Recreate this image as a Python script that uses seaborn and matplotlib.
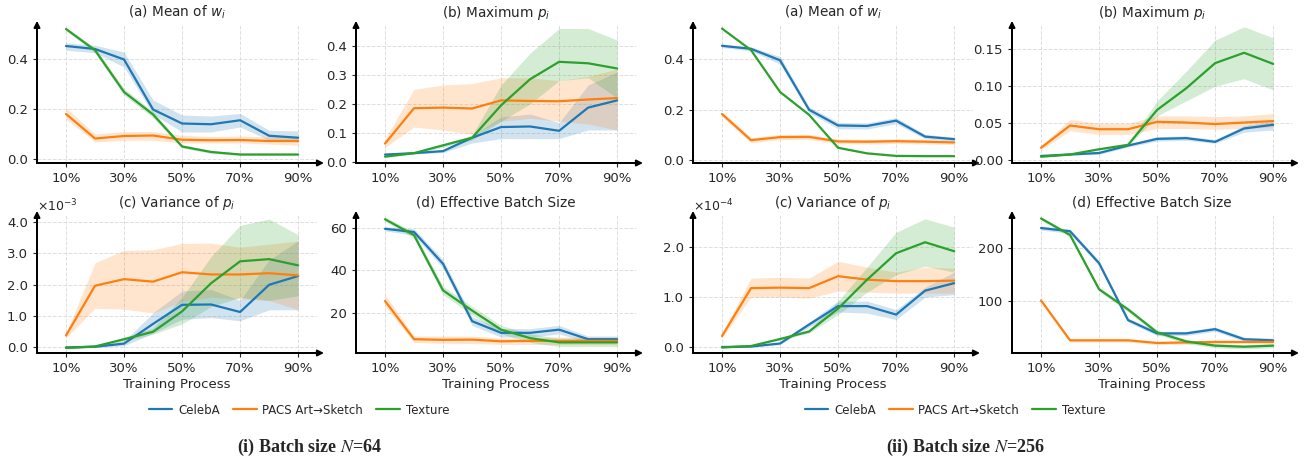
import matplotlib
matplotlib.use("Agg")
import matplotlib.pyplot as plt
import pandas as pd
import seaborn as sns
from matplotlib.ticker import ScalarFormatter, FormatStrFormatter

# eixo x e rótulos
progress = [10, 20, 30, 40, 50, 60, 70, 80, 90]
tick_pos = [10, 30, 50, 70, 90]
tick_labels = ['10%', '30%', '50%', '70%', '90%']
datasets = ['CelebA', 'PACS Art→Sketch', 'Texture']
colors = ['#1f77b4', '#ff7f0e', '#2ca02c']
titles = [r'(a) Mean of $w_i$', r'(b) Maximum $p_i$',
          r'(c) Variance of $p_i$', '(d) Effective Batch Size']
captions = [r'(i) Batch size $N$=64', r'(ii) Batch size $N$=256']

# ---------------- N = 64 ----------------
# (a) mean of w_i
w64_celeba = [0.452, 0.440, 0.398, 0.198, 0.142, 0.139, 0.155, 0.093, 0.085]
w64_celeba_lo = [0.435, 0.425, 0.368, 0.180, 0.108, 0.108, 0.128, 0.075, 0.068]
w64_celeba_hi = [0.465, 0.455, 0.428, 0.236, 0.176, 0.172, 0.182, 0.115, 0.112]
w64_pacs = [0.180, 0.082, 0.092, 0.094, 0.077, 0.075, 0.076, 0.072, 0.072]
w64_pacs_lo = [0.160, 0.068, 0.075, 0.075, 0.064, 0.064, 0.064, 0.060, 0.055]
w64_pacs_hi = [0.205, 0.100, 0.110, 0.110, 0.095, 0.090, 0.092, 0.088, 0.092]
w64_tex = [0.520, 0.435, 0.268, 0.178, 0.050, 0.028, 0.018, 0.018, 0.018]
w64_tex_lo = [0.514, 0.425, 0.255, 0.165, 0.044, 0.022, 0.014, 0.014, 0.014]
w64_tex_hi = [0.526, 0.445, 0.282, 0.190, 0.057, 0.034, 0.023, 0.022, 0.022]

# (b) maximum p_i
p64_celeba = [0.025, 0.030, 0.037, 0.083, 0.120, 0.122, 0.107, 0.187, 0.212]
p64_celeba_lo = [0.020, 0.027, 0.032, 0.065, 0.080, 0.080, 0.080, 0.110, 0.110]
p64_celeba_hi = [0.030, 0.034, 0.042, 0.090, 0.155, 0.165, 0.135, 0.265, 0.310]
p64_pacs = [0.063, 0.185, 0.187, 0.184, 0.212, 0.210, 0.209, 0.215, 0.220]
p64_pacs_lo = [0.050, 0.120, 0.110, 0.095, 0.140, 0.150, 0.140, 0.130, 0.110]
p64_pacs_hi = [0.080, 0.250, 0.265, 0.270, 0.290, 0.290, 0.280, 0.295, 0.320]
p64_tex = [0.018, 0.030, 0.057, 0.083, 0.195, 0.285, 0.345, 0.340, 0.322]
p64_tex_lo = [0.015, 0.027, 0.050, 0.075, 0.140, 0.200, 0.280, 0.290, 0.220]
p64_tex_hi = [0.021, 0.033, 0.062, 0.092, 0.265, 0.375, 0.460, 0.460, 0.420]

# (c) variance of p_i (x 1e-3)
v64_celeba = [0.00, 0.02, 0.12, 0.75, 1.36, 1.37, 1.13, 2.00, 2.28]
v64_celeba_lo = [0.00, 0.00, 0.05, 0.45, 0.90, 0.95, 0.85, 1.20, 1.20]
v64_celeba_hi = [0.03, 0.05, 0.20, 1.10, 1.80, 1.85, 1.50, 2.80, 3.40]
v64_pacs = [0.38, 1.97, 2.18, 2.10, 2.40, 2.33, 2.33, 2.37, 2.30]
v64_pacs_lo = [0.30, 1.25, 1.22, 1.10, 1.45, 1.60, 1.55, 1.50, 1.20]
v64_pacs_hi = [0.45, 2.70, 3.10, 3.12, 3.32, 3.33, 3.20, 3.30, 3.40]
v64_tex = [-0.02, 0.03, 0.26, 0.50, 1.15, 2.05, 2.75, 2.82, 2.62]
v64_tex_lo = [-0.06, 0.00, 0.20, 0.42, 0.75, 1.30, 1.60, 1.50, 1.65]
v64_tex_hi = [0.02, 0.06, 0.32, 0.62, 1.60, 2.90, 3.90, 4.10, 3.60]

# (d) effective batch size
e64_celeba = [59.5, 58.0, 43.0, 16.0, 10.5, 10.5, 12.0, 7.5, 7.5]
e64_celeba_lo = [58.5, 56.5, 41.0, 14.0, 8.5, 8.5, 10.0, 6.0, 6.0]
e64_celeba_hi = [60.5, 59.5, 45.0, 18.0, 12.5, 12.5, 14.0, 9.0, 9.0]
e64_pacs = [25.5, 7.5, 7.2, 7.3, 6.5, 6.7, 6.7, 6.7, 6.7]
e64_pacs_lo = [23.0, 6.0, 5.5, 5.5, 5.0, 5.0, 5.0, 5.0, 5.0]
e64_pacs_hi = [28.5, 9.0, 9.0, 9.0, 8.0, 8.2, 8.5, 8.5, 8.5]
e64_tex = [64.0, 56.5, 30.5, 21.0, 12.0, 8.0, 6.0, 6.0, 6.0]
e64_tex_lo = [63.0, 55.0, 28.5, 19.0, 10.0, 6.0, 4.0, 4.0, 4.0]
e64_tex_hi = [65.0, 58.0, 32.5, 23.0, 14.0, 10.0, 8.0, 8.0, 8.0]

# ---------------- N = 256 ----------------
w256_celeba = [0.452, 0.440, 0.395, 0.200, 0.138, 0.136, 0.157, 0.094, 0.084]
w256_celeba_lo = [0.445, 0.432, 0.380, 0.188, 0.125, 0.124, 0.145, 0.085, 0.076]
w256_celeba_hi = [0.459, 0.448, 0.410, 0.212, 0.150, 0.148, 0.169, 0.103, 0.092]
w256_pacs = [0.183, 0.080, 0.092, 0.093, 0.075, 0.074, 0.076, 0.074, 0.071]
w256_pacs_lo = [0.173, 0.070, 0.082, 0.083, 0.066, 0.065, 0.067, 0.065, 0.063]
w256_pacs_hi = [0.193, 0.090, 0.102, 0.103, 0.084, 0.083, 0.085, 0.083, 0.079]
w256_tex = [0.520, 0.435, 0.270, 0.180, 0.050, 0.028, 0.018, 0.017, 0.017]
w256_tex_lo = [0.517, 0.432, 0.266, 0.176, 0.047, 0.026, 0.016, 0.015, 0.015]
w256_tex_hi = [0.523, 0.438, 0.274, 0.184, 0.053, 0.030, 0.020, 0.019, 0.019]

p256_celeba = [0.006, 0.008, 0.010, 0.020, 0.029, 0.030, 0.025, 0.043, 0.048]
p256_celeba_lo = [0.005, 0.007, 0.008, 0.018, 0.026, 0.027, 0.023, 0.038, 0.041]
p256_celeba_hi = [0.007, 0.009, 0.012, 0.022, 0.032, 0.033, 0.028, 0.047, 0.053]
p256_pacs = [0.017, 0.047, 0.042, 0.042, 0.052, 0.051, 0.049, 0.051, 0.053]
p256_pacs_lo = [0.014, 0.040, 0.035, 0.035, 0.043, 0.043, 0.042, 0.043, 0.045]
p256_pacs_hi = [0.020, 0.055, 0.050, 0.050, 0.060, 0.060, 0.059, 0.060, 0.063]
p256_tex = [0.005, 0.008, 0.015, 0.021, 0.068, 0.097, 0.131, 0.145, 0.130]
p256_tex_lo = [0.004, 0.007, 0.014, 0.019, 0.060, 0.080, 0.100, 0.110, 0.095]
p256_tex_hi = [0.006, 0.009, 0.016, 0.023, 0.080, 0.120, 0.162, 0.180, 0.165]

# (c) variance of p_i (x 1e-4)
v256_celeba = [0.00, 0.01, 0.07, 0.45, 0.82, 0.82, 0.65, 1.13, 1.28]
v256_celeba_lo = [0.00, 0.00, 0.05, 0.40, 0.70, 0.68, 0.55, 1.00, 1.05]
v256_celeba_hi = [0.01, 0.02, 0.10, 0.50, 0.92, 0.92, 0.75, 1.20, 1.50]
v256_pacs = [0.22, 1.18, 1.19, 1.18, 1.42, 1.35, 1.32, 1.32, 1.33]
v256_pacs_lo = [0.18, 1.00, 1.00, 0.98, 1.12, 1.10, 1.08, 1.08, 1.08]
v256_pacs_hi = [0.27, 1.38, 1.40, 1.38, 1.72, 1.60, 1.50, 1.60, 1.58]
v256_tex = [-0.01, 0.02, 0.16, 0.31, 0.77, 1.35, 1.88, 2.10, 1.92]
v256_tex_lo = [-0.02, 0.01, 0.14, 0.28, 0.65, 1.10, 1.45, 1.62, 1.50]
v256_tex_hi = [0.00, 0.03, 0.18, 0.35, 0.92, 1.60, 2.30, 2.57, 2.40]

e256_celeba = [238, 232, 172, 65, 40, 40, 48, 29, 27]
e256_celeba_lo = [234, 228, 167, 61, 36, 36, 44, 25, 23]
e256_celeba_hi = [242, 236, 177, 69, 44, 44, 52, 33, 31]
e256_pacs = [102, 27, 27, 27, 22, 23, 24, 24, 24]
e256_pacs_lo = [99, 24, 24, 24, 19, 20, 21, 21, 21]
e256_pacs_hi = [105, 30, 30, 30, 25, 26, 27, 27, 27]
e256_tex = [256, 225, 123, 85, 42, 25, 17, 15, 17]
e256_tex_lo = [253, 221, 119, 81, 38, 21, 13, 11, 13]
e256_tex_hi = [259, 229, 127, 89, 46, 29, 21, 19, 21]


class SciFmt(ScalarFormatter):
    def _set_format(self):
        self.format = '%1.1f'


def painel(ax, series, scale=1.0):
    linhas = []
    for nome, (m, lo, hi) in zip(datasets, series):
        for x, y in zip(progress, m):
            linhas.append({'progress': x, 'valor': y * scale, 'dataset': nome})
    df = pd.DataFrame(linhas)
    sns.lineplot(data=df, x='progress', y='valor', hue='dataset',
                 hue_order=datasets, palette=colors, ax=ax, legend=False,
                 linewidth=1.6)
    for cor, (m, lo, hi) in zip(colors, series):
        ax.fill_between(progress, [v * scale for v in lo],
                        [v * scale for v in hi], color=cor, alpha=0.2, lw=0)


sns.set_style('ticks')
plt.rcParams['font.family'] = ['DejaVu Sans', 'Noto Sans']

fig = plt.figure(figsize=(13.08, 4.63), dpi=100)

grupos = [
    [
        [(w64_celeba, w64_celeba_lo, w64_celeba_hi), (w64_pacs, w64_pacs_lo, w64_pacs_hi), (w64_tex, w64_tex_lo, w64_tex_hi)],
        [(p64_celeba, p64_celeba_lo, p64_celeba_hi), (p64_pacs, p64_pacs_lo, p64_pacs_hi), (p64_tex, p64_tex_lo, p64_tex_hi)],
        [(v64_celeba, v64_celeba_lo, v64_celeba_hi), (v64_pacs, v64_pacs_lo, v64_pacs_hi), (v64_tex, v64_tex_lo, v64_tex_hi)],
        [(e64_celeba, e64_celeba_lo, e64_celeba_hi), (e64_pacs, e64_pacs_lo, e64_pacs_hi), (e64_tex, e64_tex_lo, e64_tex_hi)],
    ],
    [
        [(w256_celeba, w256_celeba_lo, w256_celeba_hi), (w256_pacs, w256_pacs_lo, w256_pacs_hi), (w256_tex, w256_tex_lo, w256_tex_hi)],
        [(p256_celeba, p256_celeba_lo, p256_celeba_hi), (p256_pacs, p256_pacs_lo, p256_pacs_hi), (p256_tex, p256_tex_lo, p256_tex_hi)],
        [(v256_celeba, v256_celeba_lo, v256_celeba_hi), (v256_pacs, v256_pacs_lo, v256_pacs_hi), (v256_tex, v256_tex_lo, v256_tex_hi)],
        [(e256_celeba, e256_celeba_lo, e256_celeba_hi), (e256_pacs, e256_pacs_lo, e256_pacs_hi), (e256_tex, e256_tex_lo, e256_tex_hi)],
    ],
]

escalas = [[1, 1, 1e-3, 1], [1, 1, 1e-4, 1]]
ylims = [
    [(-0.016, 0.536), (-0.004, 0.472), (-0.18e-3, 4.23e-3), (1.0, 66)],
    [(-0.010, 0.534), (-0.0035, 0.1824), (-0.12e-4, 2.646e-4), (3.2, 262.5)],
]
yticks = [
    [[0.0, 0.2, 0.4], [0.0, 0.1, 0.2, 0.3, 0.4], [0, 1e-3, 2e-3, 3e-3, 4e-3], [20, 40, 60]],
    [[0.0, 0.2, 0.4], [0.0, 0.05, 0.10, 0.15], [0, 1e-4, 2e-4], [100, 200]],
]
yfmts = [['%.1f', '%.1f', None, '%d'], ['%.1f', '%.2f', None, '%d']]

lefts = [[37, 356], [693, 1012]]
W, H = 1308, 463
larg = 280 / W
alt = 138 / H
bases = [300 / H, 110 / H]

for g in range(2):
    for k in range(4):
        linha, col = divmod(k, 2)
        ax = fig.add_axes([lefts[g][col] / W, bases[linha], larg, alt])
        painel(ax, grupos[g][k], escalas[g][k])
        ax.set_xlim(0, 96.5)
        ax.set_ylim(*ylims[g][k])
        ax.set_xticks(tick_pos)
        ax.set_xticklabels(tick_labels)
        ax.set_yticks(yticks[g][k])
        if yfmts[g][k] is None:
            fmt = SciFmt(useMathText=True)
            fmt.set_powerlimits((0, 0))
            ax.yaxis.set_major_formatter(fmt)
            ax.yaxis.get_offset_text().set_fontsize(9)
        else:
            ax.yaxis.set_major_formatter(FormatStrFormatter(yfmts[g][k]))
        ax.tick_params(labelsize=9.5, length=3)
        ax.grid(True, ls='--', lw=0.7, color='0.87')
        sns.despine(ax=ax)
        ax.spines['left'].set_linewidth(1.4)
        ax.spines['bottom'].set_linewidth(1.4)
        ax.annotate('', xy=(1.025, 0), xytext=(0, 0), xycoords='axes fraction',
                    arrowprops=dict(arrowstyle='-|>', color='black', lw=1.4,
                                    mutation_scale=9, shrinkA=0, shrinkB=0),
                    annotation_clip=False)
        ax.annotate('', xy=(0, 1.03), xytext=(0, 0), xycoords='axes fraction',
                    arrowprops=dict(arrowstyle='-|>', color='black', lw=1.4,
                                    mutation_scale=9, shrinkA=0, shrinkB=0),
                    annotation_clip=False)
        ax.set_title(titles[k], fontsize=9.8, pad=6)
        ax.set_ylabel('')
        if linha == 1:
            ax.set_xlabel('Training Process', fontsize=9.5, labelpad=2)
        else:
            ax.set_xlabel('')
        if k == 0:
            handles = ax.get_lines()[:3]

    cx_leg = [299, 955][g] / W
    cx_cap = [310, 966][g] / W
    fig.legend(handles, datasets, loc='center', bbox_to_anchor=(cx_leg, 1 - 410 / H),
               ncol=3, frameon=False, fontsize=8.5, handlelength=2.0,
               handletextpad=0.5, columnspacing=1.1)
    fig.text(cx_cap, 1 - 447 / H, captions[g], ha='center', va='center',
             fontsize=13, fontweight='bold', family='Liberation Serif',
             math_fontfamily='stix')

fig.savefig('out.png', dpi=100)
